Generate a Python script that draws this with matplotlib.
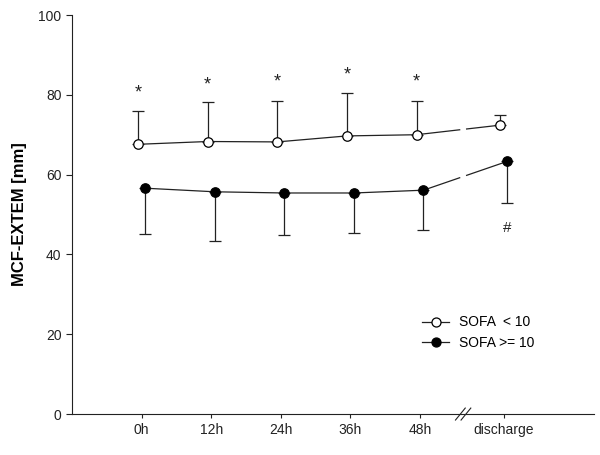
import numpy as np
import matplotlib.pyplot as plt

plt.rcParams['font.family'] = ['Liberation Sans', 'DejaVu Sans']

# data
time_labels = ['0h', '12h', '24h', '36h', '48h', 'discharge']
x_pos = [0, 1, 2, 3, 4, 5.2]
x_break = 4.62

low_mean = [67.6, 68.3, 68.2, 69.7, 70.0, 72.4]    # SOFA < 10
low_upper = [75.9, 78.2, 78.5, 80.4, 78.5, 74.9]
high_mean = [56.6, 55.7, 55.4, 55.4, 56.1, 63.3]   # SOFA >= 10
high_lower = [45.0, 43.4, 44.8, 45.3, 46.0, 52.8]

star_y = [80.4, 82.5, 83.2, 84.9, 83.2]
hash_y = 46.5

fig = plt.figure(figsize=(6, 4.55), dpi=100)
ax = fig.add_axes([0.12, 0.09, 0.87, 0.877])

off = 0.05
xl = np.array(x_pos) - off
xh = np.array(x_pos) + off
gap = 0.05


def draw_series(ax, x, y, face, label):
    x = np.asarray(x)
    y = np.asarray(y)
    # solid part up to 48h
    ax.plot(x[:5], y[:5], color='#222222', lw=0.9, zorder=2)
    # broken segment across the axis break
    xa = x_break - gap
    xb = x_break + gap
    ya = np.interp(xa, x[4:], y[4:])
    yb = np.interp(xb, x[4:], y[4:])
    ax.plot([x[4], xa], [y[4], ya], color='#222222', lw=0.9, zorder=2)
    ax.plot([xb, x[5]], [yb, y[5]], color='#222222', lw=0.9, zorder=2)
    ax.plot(x, y, ls='none', marker='o', ms=6.8, mfc=face, mec='black',
            mew=0.9, zorder=4)
    ax.plot([], [], color='#222222', lw=0.9, marker='o', ms=6.5, mfc=face,
            mec='black', mew=0.9, label=label)


# error bars (one-sided)
lo = np.array(low_mean)
up = np.array(low_upper)
ax.errorbar(xl, lo, yerr=[np.zeros_like(lo), up - lo], fmt='none',
            ecolor='#222222', elinewidth=0.9, capsize=4, capthick=0.9, zorder=3)
hi = np.array(high_mean)
dn = np.array(high_lower)
ax.errorbar(xh, hi, yerr=[hi - dn, np.zeros_like(hi)], fmt='none',
            ecolor='#222222', elinewidth=0.9, capsize=4, capthick=0.9, zorder=3)

draw_series(ax, xl, low_mean, 'white', 'SOFA  < 10')
draw_series(ax, xh, high_mean, 'black', 'SOFA >= 10')

for xi, sy in zip(xl[:5], star_y):
    ax.text(xi, sy, '*', ha='center', va='center', fontsize=13, color='#222222')
ax.text(xh[5], hash_y, '#', ha='center', va='center', fontsize=11, color='#222222')

ax.set_xlim(-1, 6.5)
ax.set_ylim(0, 100)
ax.set_yticks([0, 20, 40, 60, 80, 100])
ax.set_xticks(x_pos)
ax.set_xticklabels(time_labels)
ax.tick_params(axis='both', direction='out', labelsize=10, colors='#222222',
               width=0.8)
ax.tick_params(axis='x', length=3)
ax.tick_params(axis='y', length=4)
for s in ['top', 'right']:
    ax.spines[s].set_visible(False)
for s in ['left', 'bottom']:
    ax.spines[s].set_linewidth(0.8)
    ax.spines[s].set_color('#222222')

ax.set_ylabel('MCF-EXTEM [mm]', fontsize=12, fontweight='bold', labelpad=8)

# axis break mark
for dx in [-0.04, 0.04]:
    ax.plot([x_break + dx - 0.07, x_break + dx + 0.07], [-1.5, 1.5],
            color='#222222', lw=0.8, clip_on=False, transform=ax.transData, zorder=5)

ax.legend(loc='lower right', bbox_to_anchor=(0.91, 0.13), frameon=False,
          fontsize=10, handlelength=2.0, handletextpad=0.7, labelspacing=0.45)

fig.savefig('out.png', dpi=100)
